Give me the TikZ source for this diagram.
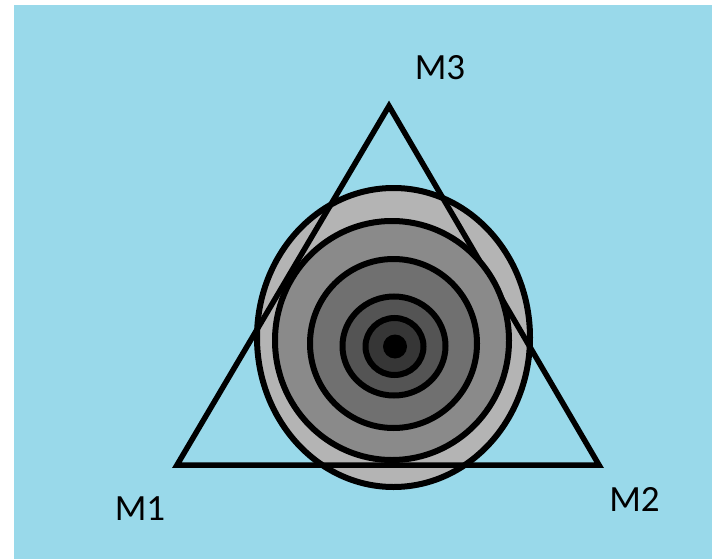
\documentclass[tikz,border=0pt]{standalone}
\usepackage{fontspec}
\setmainfont{Carlito}
\definecolor{bgblue}{RGB}{153,217,234}
\definecolor{g1}{RGB}{180,180,180}
\definecolor{g2}{RGB}{138,138,138}
\definecolor{g3}{RGB}{112,112,112}
\definecolor{g4}{RGB}{84,84,84}
\definecolor{g5}{RGB}{54,54,54}
\begin{document}
\begin{tikzpicture}[x=1pt,y=-1pt,
  ring/.style={draw=black,line width=6pt},
  tri/.style={draw=black,line width=5.5pt,line join=miter},
  lab/.style={font=\fontsize{37}{40}\selectfont,text=black,inner sep=0pt}]
\useasboundingbox (0,0) rectangle (712,559);
\fill[white] (0,0) rectangle (712,559);
\fill[bgblue] (14,5) rectangle (712,559);
\draw[ring,fill=g1] (393.5,337.5) ellipse [x radius=136.5, y radius=149.5];
\coordinate (M1) at (177,465);
\coordinate (M2) at (599,465);
\coordinate (M3) at (389,106);
\draw[tri] (M1) -- (M2) -- (M3) -- cycle;
\draw[ring,fill=g2] (392,340.5) ellipse [x radius=117, y radius=119.5];
\draw[ring,fill=g3] (393.5,343.5) ellipse [x radius=83.5, y radius=84.5];
\draw[ring,fill=g4] (394,346) ellipse [x radius=51.5, y radius=49.5];
\draw[ring,fill=g5] (394.5,346.5) ellipse [x radius=29, y radius=28.5];
\fill[black] (395,346.5) circle [radius=12];
\node[lab] (l3) at (440,67.5) {M3};
\node[lab] (l1) at (140,508.5) {M1};
\node[lab] (l2) at (634.5,499) {M2};
\end{tikzpicture}
\end{document}
